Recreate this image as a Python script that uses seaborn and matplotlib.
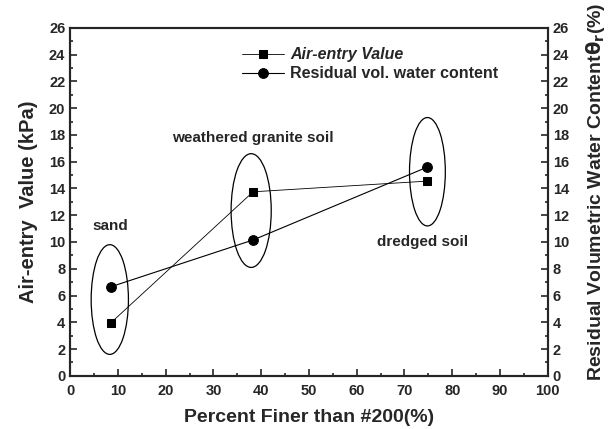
import matplotlib
matplotlib.use('Agg')
import matplotlib.pyplot as plt
import seaborn as sns
import pandas as pd
from matplotlib.patches import Ellipse

# data
soils = ['sand', 'weathered granite soil', 'dredged soil']
fines = [8.5, 38.3, 74.8]
air_entry = [3.95, 13.75, 14.55]
residual_wc = [6.65, 10.15, 15.6]

# ellipse groups (center x, center y, width, height)
ell_x = [8.3, 37.9, 74.8]
ell_y = [5.7, 12.35, 15.25]
ell_w = [7.8, 8.4, 7.5]
ell_h = [8.2, 8.5, 8.1]

# label positions
lab_x = [8.4, 38.2, 73.8]
lab_y = [11.2, 17.8, 10.0]

df = pd.DataFrame({'fines': fines, 'aev': air_entry, 'wc': residual_wc})

sns.set_style('ticks')
plt.rcParams['font.family'] = ['Liberation Sans', 'DejaVu Sans']
plt.rcParams['font.weight'] = 'bold'
plt.rcParams['mathtext.default'] = 'bf'

fig = plt.figure(figsize=(6.1, 4.29), dpi=100)
ax1 = fig.add_axes([0.115, 0.124, 0.783, 0.811])
ax2 = ax1.twinx()

sns.lineplot(data=df, x='fines', y='aev', ax=ax1, color='k', marker='s',
             markersize=6, linewidth=0.6, markeredgecolor='k', label='Air-entry Value')
sns.lineplot(data=df, x='fines', y='wc', ax=ax2, color='k', marker='o',
             markersize=7, linewidth=0.8, markeredgecolor='k',
             label='Residual vol. water content')

for cx, cy, w, h in zip(ell_x, ell_y, ell_w, ell_h):
    ax1.add_patch(Ellipse((cx, cy), w, h, fill=False, edgecolor='k', linewidth=0.9))

for name, tx, ty in zip(soils, lab_x, lab_y):
    ax1.text(tx, ty, name, ha='center', va='center', fontsize=11, fontweight='bold')

for ax in (ax1, ax2):
    ax.set_ylim(0, 26)
    ax.set_yticks(range(0, 27, 2))
    ax.set_yticks(range(0, 27, 1), minor=True)
    ax.tick_params(which='both', direction='in', labelsize=10.5, width=1.2)
    ax.tick_params(which='major', length=5)
    ax.tick_params(which='minor', length=2.5)
    for s in ax.spines.values():
        s.set_linewidth(1.5)
        s.set_visible(True)
    for lab in ax.get_yticklabels():
        lab.set_fontweight('bold')

ax1.set_xlim(0, 100)
ax1.set_xticks(range(0, 101, 10))
ax1.set_xticks(range(0, 101, 5), minor=True)
ax1.tick_params(axis='x', pad=6)
for lab in ax1.get_xticklabels():
    lab.set_fontweight('bold')

ax1.set_xlabel('Percent Finer than #200(%)', fontsize=14, fontweight='bold', labelpad=8)
ax1.set_ylabel('Air-entry  Value (kPa)', fontsize=14.5, fontweight='bold', labelpad=8)
ax2.set_ylabel(r'Residual Volumetric Water Content$\theta_r$(%)', fontsize=14,
               fontweight='bold')
ax2.yaxis.set_label_coords(1.075, 0.53)

h1, l1 = ax1.get_legend_handles_labels()
h2, l2 = ax2.get_legend_handles_labels()
if ax1.get_legend():
    ax1.get_legend().remove()
if ax2.get_legend():
    ax2.get_legend().remove()
leg = ax2.legend(h1 + h2, l1 + l2, loc='upper left', bbox_to_anchor=(0.33, 0.985),
                 frameon=False, fontsize=11.5, handlelength=2.6, handletextpad=0.4,
                 labelspacing=0.25)
for t in leg.get_texts():
    t.set_fontweight('bold')
leg.get_texts()[0].set_fontstyle('italic')

plt.savefig('out.png', dpi=100)
